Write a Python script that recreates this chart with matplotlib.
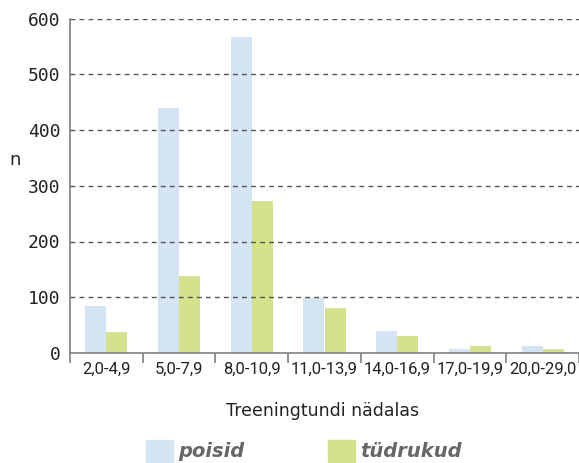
import numpy as np
import matplotlib.pyplot as plt
from matplotlib.patches import Patch

categories = ["2,0-4,9", "5,0-7,9", "8,0-10,9", "11,0-13,9",
              "14,0-16,9", "17,0-19,9", "20,0-29,0"]
poisid = [84, 440, 567, 99, 39, 8, 12]
tudrukud = [37, 138, 273, 80, 30, 12, 8]
y_ticks = [0, 100, 200, 300, 400, 500, 600]

blue = "#d4e4f5"
green = "#d5e28b"
grey = "#808080"


def main():
    fig = plt.figure(figsize=(5.79, 4.63), dpi=100)
    ax = fig.add_axes([70 / 579, 1 - 353 / 463, 509 / 579, (353 - 18.5) / 463])

    x = np.arange(len(categories))
    w = 0.29
    ax.bar(x - w / 2, poisid, w, color=blue, zorder=1)
    ax.bar(x + w / 2, tudrukud, w, color=green, zorder=1)

    # dashed grid drawn over the bars
    for v in y_ticks[1:]:
        ax.axhline(v, color="#555555", lw=1, ls=(0, (3.5, 3)), zorder=3)

    ax.set_xlim(-0.5, len(categories) - 0.5)
    ax.set_ylim(0, 600)

    for s in ["top", "right"]:
        ax.spines[s].set_visible(False)
    for s in ["left", "bottom"]:
        ax.spines[s].set_color(grey)
        ax.spines[s].set_linewidth(1.2)

    ax.set_yticks(y_ticks)
    ax.set_yticklabels([str(v) for v in y_ticks], family="DejaVu Sans Mono",
                       fontsize=13, color="#222222")
    ax.tick_params(axis="y", length=0, pad=7)

    # ticks at group boundaries, labels at group centres
    ax.set_xticks(np.arange(len(categories) + 1) - 0.5)
    ax.set_xticklabels([])
    ax.set_xticks(x, minor=True)
    ax.set_xticklabels(categories, minor=True, family="Roboto",
                       fontsize=12, color="#222222")
    ax.tick_params(axis="x", which="major", length=7, color=grey, width=1.2)
    ax.tick_params(axis="x", which="minor", length=0, pad=6)

    fig.text(15 / 579, 1 - 160 / 463, "n", fontsize=13, color="#222222",
             ha="center", va="center")
    fig.text(323 / 579, 1 - 411 / 463, "Treeningtundi nädalas", fontsize=12.5,
             color="#222222", ha="center", va="center")

    handles = [Patch(color=blue), Patch(color=green)]
    leg = fig.legend(handles, ["poisid", "tüdrukud"], ncol=2, frameon=False,
                     loc="center", bbox_to_anchor=(304 / 579, 1 - 451 / 463),
                     prop={"size": 14, "weight": "bold", "style": "italic"},
                     handlelength=1.4, handleheight=1.4, handletextpad=0.25,
                     columnspacing=4.3, borderpad=0, borderaxespad=0)
    for t in leg.get_texts():
        t.set_color("#666666")

    fig.savefig("out.png", dpi=100)


if __name__ == '__main__':
    main()
